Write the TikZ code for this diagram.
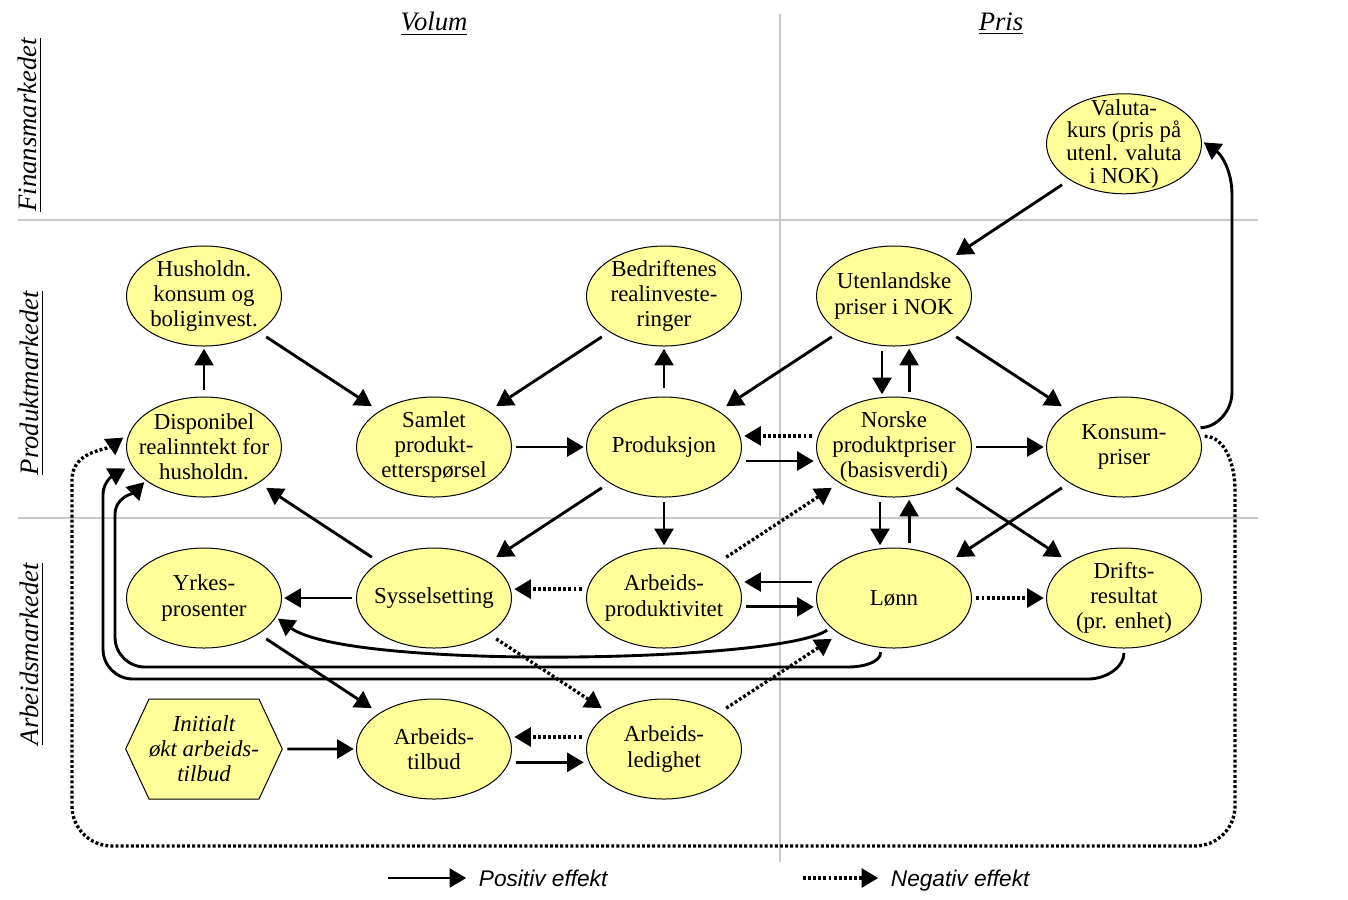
\documentclass[tikz,border=0pt]{standalone}
\usepackage{fontspec}
\setmainfont{Liberation Serif}
\newfontfamily\arialfont{Liberation Sans}
\usetikzlibrary{arrows.meta,positioning,shapes.geometric,shapes.symbols}
\definecolor{gul}{RGB}{255,255,153}
\definecolor{rutenett}{RGB}{200,200,200}
\tikzset{
    %Define standard arrow tip
    >={Triangle[length=7.5pt,width=8.5pt]},
    %Define style for ellipses
    punkt/.style={
           ellipse,
           draw=black, line width=0.45pt,
           fill=gul,
           minimum width=69.75pt,
           minimum height=45pt,
           inner sep=-8pt,
           align=center,
           font=\fontsize{10.3}{11.3}\selectfont},
    sekskant/.style={
           shape=signal,
           signal to=east and west,
           signal pointer angle=130,
           draw=black, line width=0.45pt,
           fill=gul,
           minimum width=69.3pt,
           minimum height=45pt,
           inner sep=0pt,
           align=center,
           font=\fontsize{10.3}{11.3}\selectfont\itshape},
    % Define arrow styles
    pil/.style={
           ->,
           line width=1.3pt,
           shorten <=2pt,
           shorten >=1pt},
    negpil/.style={
           pil,
           line width=1.5pt,
           dash pattern=on 1.3pt off 1pt},
    skraa/.style={
           shorten <=4pt,
           shorten >=4pt},
    akse/.style={font=\fontsize{12}{14}\selectfont\itshape},
    linje/.style={draw=rutenett, line width=0.8pt},
    forklaring/.style={anchor=base west, inner sep=2pt,
           font=\arialfont\fontsize{10.2}{12}\selectfont\itshape}
}

\begin{document}
\begin{tikzpicture}[x=0.45pt,y=-0.45pt,node distance=22.5pt and 33.3pt]
\useasboundingbox (0,0) rectangle (1348,899);

 %rutenett
\draw[linje] (780,14) -- (780,862);
\draw[linje] (18,220) -- (1258,220);
\draw[linje] (18,518) -- (1258,518);

 %overskrifter
\node[akse] (volum) at (434,24) {\underline{Volum}};
\node[akse] (pris) at (1001,24) {\underline{Pris}};
\node[akse,rotate=90] (finans) at (30,125) {\underline{Finansmarkedet}};
\node[akse,rotate=90] (produkt) at (32,383) {\underline{Produktmarkedet}};
\node[akse,rotate=90] (arbeid) at (32,654) {\underline{Arbeidsmarkedet}};

 %nodes
\node[punkt] (2) at (204,296) {Husholdn.\\konsum og\\boliginvest.};
\node[punkt, below=of 2] (5) {Disponibel\\realinntekt for\\husholdn.};
\node[punkt, below=of 5] (10) {Yrkes-\\prosenter};
\node[sekskant, below=of 10] (15) {Initialt\\økt arbeids-\\tilbud};
\node[punkt, right=of 5] (6) {Samlet\\produkt-\\etterspørsel};
\node[punkt, right=of 6] (7) {Produksjon};
\node[punkt, right=of 7] (8) {Norske\\produktpriser\\(basisverdi)};
\node[punkt, right=of 8] (9) {Konsum-\\priser};
\node[punkt, above=of 7] (3) {Bedriftenes\\realinveste-\\ringer};
\node[punkt, above=of 8] (4) {Utenlandske\\priser i NOK};
\node[punkt, above=91pt of 9, font=\fontsize{10.3}{10.2}\selectfont] (1)
    {Valuta-\\kurs (pris på\\utenl. valuta\\i NOK)};
\node[punkt, below=of 6] (11) {Sysselsetting};
\node[punkt, below=of 11] (16) {Arbeids-\\tilbud};
\node[punkt, below=of 7] (12) {Arbeids-\\produktivitet};
\node[punkt, below=of 12] (17) {Arbeids-\\ledighet};
\node[punkt, below=of 8] (13) {Lønn};
\node[punkt, below=of 9] (14) {Drifts-\\resultat\\(pr. enhet)};

 %positiv effekt
\path[pil]
    (1) edge[skraa] (4)
    (4) edge[skraa] (7)
    ([xshift=-5.4pt]4.south) edge ([xshift=-5.4pt]8.north)
    ([xshift=6.8pt]8.north) edge ([xshift=6.8pt]4.south)
    (4) edge[skraa] (9)
    (3) edge[skraa] (6)
    (7) edge[shorten <=4pt] (3)
    (2) edge[skraa] (6)
    (5) edge[shorten <=3pt] (2)
    (6) edge (7)
    ([yshift=-6.3pt]7.east) edge ([yshift=-6.3pt]8.west)
    (8) edge (9)
    ([xshift=-6.3pt]8.south) edge ([xshift=-6.3pt]13.north)
    ([xshift=6.8pt]13.north) edge ([xshift=6.8pt]8.south)
    (8) edge[skraa] (14)
    (9) edge[skraa] (13)
    ([yshift=7.2pt]13.west) edge ([yshift=7.2pt]12.east)
    ([yshift=-4pt]12.east) edge ([yshift=-4pt]13.west)
    (11) edge (10)
    (11) edge[skraa] (5)
    (7) edge[skraa] (11)
    (7) edge (12)
    (10) edge[skraa] (16)
    (15) edge (16)
    ([yshift=-6pt]16.east) edge ([yshift=-6pt]17.west);

 %negativ effekt
\path[negpil]
    ([yshift=5pt]8.west) edge ([yshift=5pt]7.east)
    (13) edge (14)
    ([yshift=4pt]12.west) edge ([yshift=4pt]11.east)
    (12) edge[skraa] (8)
    ([yshift=5.4pt]17.west) edge ([yshift=5.4pt]16.east)
    (11) edge[skraa] (17)
    (17) edge[skraa] (13);

 %lange piler
\draw[pil] (9.15) to[out=0,in=-90] (1232,392) -- (1232,195)
    to[out=90,in=-35] (1.2);
\draw[pil] (13.205) .. controls +(-49,35) and +(73,53) .. (10.-15);
\draw[pil] (13.-105) to[out=-90,in=0] (848,667) -- (145,667)
    to[out=180,in=-90] (115,637) -- (115,515) to[out=90,in=225] (5.210);
\draw[pil, shorten >=3pt] (14.south) to[out=-90,in=0] (1088,679) -- (133,679)
    to[out=180,in=-90] (103,649) -- (103,495) to[out=90,in=210] (5.194);
\draw[negpil, shorten >=3pt] (9.8) to[out=0,in=90] (1235,490) -- (1235,806)
    to[out=-90,in=0] (1195,846) -- (112,846) to[out=180,in=-90] (72,806)
    -- (72,480) to[out=90,in=215] (5.170);

 %forklaring
\coordinate (posfra) at (388,878);
\node[forklaring] (positiv) at (474,886) {Positiv effekt};
\draw[pil, shorten <=0pt, shorten >=3.5pt] (posfra) -- (positiv.west |- posfra);
\coordinate (negfra) at (803,878);
\node[forklaring] (negativ) at (886,886) {Negativ effekt};
\draw[negpil, shorten <=0pt, shorten >=3.5pt] (negfra) -- (negativ.west |- negfra);

\end{tikzpicture}
\end{document}
